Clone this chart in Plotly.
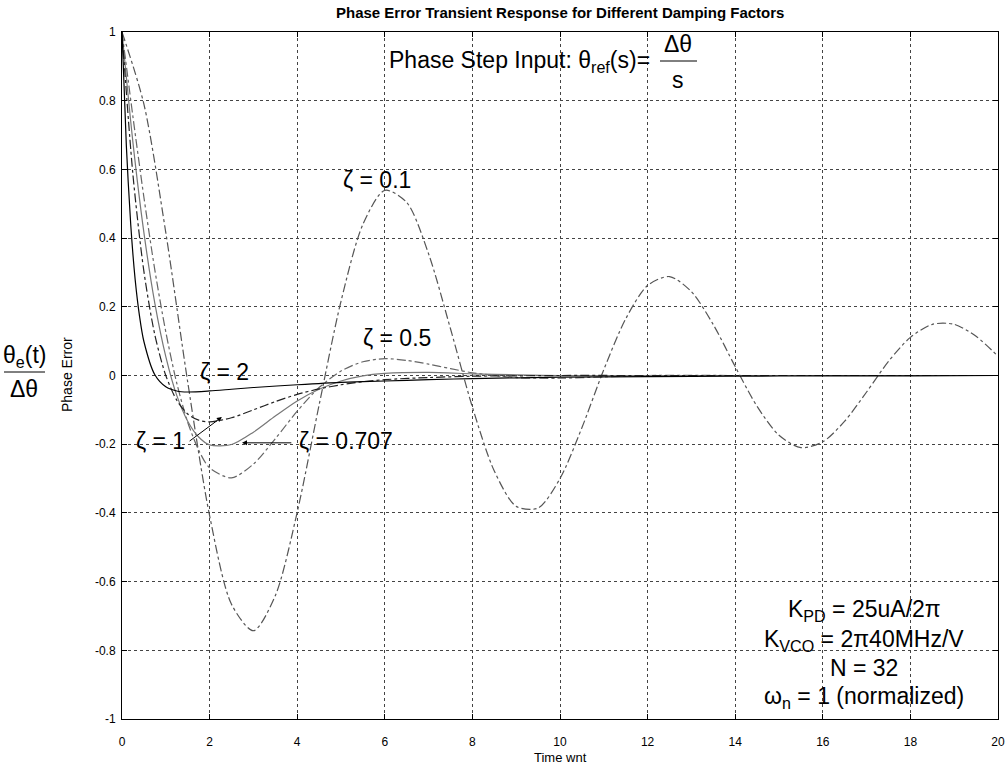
import plotly.graph_objects as go

# ---- data ----
t_z01 = [0, 0.5, 1, 1.5, 2, 2.5, 3, 3.5, 4, 4.5, 5, 5.5, 6, 6.5, 7, 7.5, 8, 8.5, 9, 9.5,
         10, 10.5, 11, 11.5, 12, 12.5, 13, 13.5, 14, 14.5, 15, 15.5, 16, 16.5, 17, 17.5,
         18, 18.5, 19, 19.5, 20]
y_z01 = [1.0, 0.790, 0.416, -0.019, -0.408, -0.666, -0.743, -0.641, -0.398, -0.086, 0.216,
         0.440, 0.539, 0.504, 0.354, 0.136, -0.092, -0.278, -0.381, -0.386, -0.300, -0.152,
         0.017, 0.165, 0.262, 0.288, 0.244, 0.148, 0.026, -0.090, -0.174, -0.210, -0.193,
         -0.133, -0.048, 0.041, 0.111, 0.149, 0.149, 0.114, 0.056]

t_z05 = [0, 0.25, 0.5, 0.75, 1, 1.25, 1.5, 1.75, 2, 2.5, 3, 3.5, 4, 4.5, 5, 5.5, 6, 6.5,
         7, 7.5, 8, 9, 10, 11, 12, 14, 16, 18, 20]
y_z05 = [1.0, 0.753, 0.519, 0.307, 0.127, -0.022, -0.136, -0.217, -0.269, -0.298, -0.258,
         -0.184, -0.104, -0.035, 0.013, 0.040, 0.049, 0.044, 0.033, 0.020, 0.008, -0.006,
         -0.008, -0.004, 0.0, 0.0, 0.0, 0.0, 0.0]

t_z0707 = [0, 0.25, 0.5, 0.75, 1, 1.25, 1.5, 1.75, 2, 2.5, 3, 3.5, 4, 4.5, 5, 5.5, 6,
           7, 8, 9, 10, 12, 14, 16, 18, 20]
y_z0707 = [1.0, 0.678, 0.416, 0.210, 0.055, -0.058, -0.133, -0.179, -0.202, -0.201, -0.165,
           -0.118, -0.074, -0.040, -0.016, -0.001, 0.006, 0.009, 0.005, 0.002, 0.0, 0.0,
           0.0, 0.0, 0.0, 0.0]

t_z1 = [0, 0.25, 0.5, 0.75, 1, 1.25, 1.5, 1.75, 2, 2.5, 3, 3.5, 4, 4.5, 5, 5.5, 6, 7, 8,
        9, 10, 12, 14, 16, 18, 20]
y_z1 = [1.0, 0.584, 0.303, 0.118, 0.0, -0.072, -0.112, -0.130, -0.135, -0.123, -0.100,
        -0.076, -0.055, -0.039, -0.027, -0.018, -0.012, -0.006, -0.002, -0.001, 0.0, 0.0,
        0.0, 0.0, 0.0, 0.0]

t_z2 = [0, 0.1, 0.2, 0.3, 0.4, 0.5, 0.75, 1, 1.25, 1.5, 2, 2.5, 3, 4, 5, 6, 7, 8, 10,
        12, 14, 16, 18, 20]
y_z2 = [1.0, 0.667, 0.438, 0.280, 0.173, 0.099, 0.002, -0.033, -0.045, -0.048, -0.045,
        -0.040, -0.035, -0.027, -0.020, -0.016, -0.012, -0.009, -0.005, -0.003, -0.002,
        -0.001, -0.001, 0.0]

x_ticks = [0, 2, 4, 6, 8, 10, 12, 14, 16, 18, 20]
y_ticks = [-1, -0.8, -0.6, -0.4, -0.2, 0, 0.2, 0.4, 0.6, 0.8, 1]
y_tick_text = ["-1", "-0.8", "-0.6", "-0.4", "-0.2", "0", "0.2", "0.4", "0.6", "0.8", "1"]

FONT = "Liberation Sans, Arial, Helvetica, sans-serif"

W, H = 1008, 771
# plot-area pixel box in the page
PL, PR, PT, PB = 122, 998, 32, 719
def px(x):
    return (x - PL) / (PR - PL)
def py(y):
    return (PB - y) / (PB - PT)

fig = go.Figure()
series = [
    (t_z01, y_z01, "ζ = 0.1", "#555555", "dashdot"),
    (t_z05, y_z05, "ζ = 0.5", "#666666", "dashdot"),
    (t_z0707, y_z0707, "ζ = 0.707", "#777777", "solid"),
    (t_z1, y_z1, "ζ = 1", "#222222", "dashdot"),
    (t_z2, y_z2, "ζ = 2", "#000000", "solid"),
]
for t, y, name, col, dash in series:
    fig.add_trace(go.Scatter(x=t, y=y, mode="lines", name=name,
                             line=dict(color=col, width=1.2, dash=dash, shape="spline",
                                       smoothing=0.8),
                             showlegend=False))

axis_common = dict(showline=True, linecolor="black", linewidth=1, mirror="ticks",
                   ticks="inside", ticklen=5, tickcolor="black",
                   showgrid=True, gridcolor="#444444", griddash="dot", gridwidth=1,
                   zeroline=False, automargin=False,
                   tickfont=dict(family=FONT, size=12, color="black"))

fig.update_xaxes(range=[0, 20], tickvals=x_ticks, ticklabelstandoff=12, **axis_common)
fig.update_yaxes(range=[-1, 1], tickvals=y_ticks, ticktext=y_tick_text,
                 ticklabelstandoff=3, **axis_common)

ann = []
big = dict(family=FONT, size=23, color="black")
C = dict(xanchor="center", yanchor="middle", showarrow=False)
# curve labels
ann.append(dict(x=5.82, y=0.57, text="ζ = 0.1", font=big, **C))
ann.append(dict(x=6.28, y=0.11, text="ζ = 0.5", font=big, **C))
ann.append(dict(x=2.33, y=0.01, text="ζ = 2", font=big, **C))
ann.append(dict(x=0.87, y=-0.19, text="ζ = 1", font=big, **C))
ann.append(dict(x=5.11, y=-0.19, text="ζ = 0.707", font=big, **C))
# arrows
ann.append(dict(x=2.28, y=-0.121, ax=1.51, ay=-0.194, axref="x", ayref="y", text="",
                showarrow=True, arrowhead=2, arrowsize=1, arrowwidth=1, arrowcolor="black"))
ann.append(dict(x=2.74, y=-0.196, ax=3.9, ay=-0.196, axref="x", ayref="y", text="",
                showarrow=True, arrowhead=2, arrowsize=1, arrowwidth=1, arrowcolor="black"))
# parameters block
params = [(-0.683, "K<sub>PD</sub> = 25uA/2π"), (-0.770, "K<sub>VCO</sub> = 2π40MHz/V"),
          (-0.851, "N = 32"), (-0.936, "ω<sub>n</sub> = 1 (normalized)")]
for yy, txt in params:
    ann.append(dict(x=16.95, y=yy, text=txt, font=big, **C))
# phase step input
ann.append(dict(x=px(652), y=py(62), xref="paper", yref="paper",
                xanchor="right", yanchor="middle",
                text="Phase Step Input: θ<sub>ref</sub>(s)=", showarrow=False, font=big))
ann.append(dict(x=px(678), y=py(44), xref="paper", yref="paper",
                text="Δθ", font=big, **C))
ann.append(dict(x=px(678), y=py(80), xref="paper", yref="paper",
                text="s", font=big, **C))
# left big label
ann.append(dict(x=px(24), y=py(356), xref="paper", yref="paper",
                text="θ<sub>e</sub>(t)", font=big, **C))
ann.append(dict(x=px(24), y=py(389), xref="paper", yref="paper",
                text="Δθ", font=big, **C))
# axis titles
ann.append(dict(x=px(67), y=py(375), xref="paper", yref="paper", textangle=-90,
                text="Phase Error", font=dict(family=FONT, size=14, color="black"), **C))
ann.append(dict(x=0.5, y=py(757), xref="paper", yref="paper",
                text="Time wnt", font=dict(family=FONT, size=13, color="black"), **C))
# title
ann.append(dict(x=0.5, y=py(13), xref="paper", yref="paper",
                text="<b>Phase Error Transient Response for Different Damping Factors</b>",
                font=dict(family=FONT, size=15, color="black"), **C))

shapes = [
    dict(type="line", xref="paper", yref="paper", x0=px(660), x1=px(697),
         y0=py(61), y1=py(61), line=dict(color="black", width=1)),
    dict(type="line", xref="paper", yref="paper", x0=px(4), x1=px(45),
         y0=py(372), y1=py(372), line=dict(color="black", width=1)),
]

fig.update_layout(width=W, height=H,
                  margin=dict(l=PL, r=W - PR, t=PT, b=H - PB),
                  paper_bgcolor="white", plot_bgcolor="white",
                  annotations=ann, shapes=shapes,
                  font=dict(family=FONT, color="black"))

fig.write_html("out.html", config={"displayModeBar": False},
               post_script="document.body.style.margin='0px';"
                           "document.body.style.overflow='hidden';")
